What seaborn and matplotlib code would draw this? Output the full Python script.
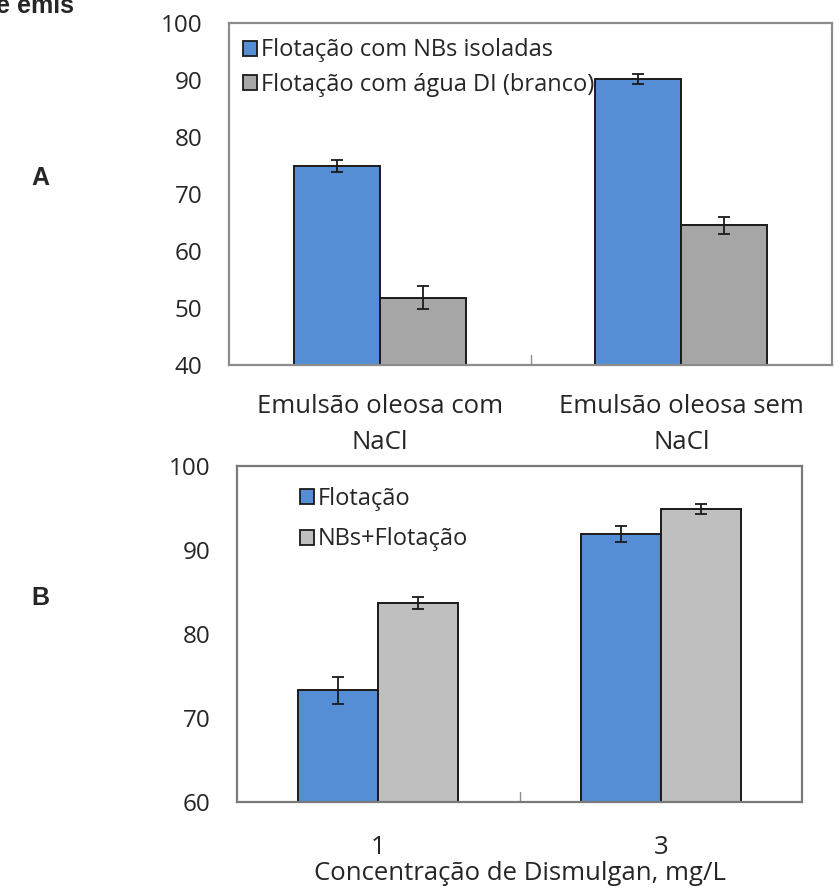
import numpy as np
import pandas as pd
import matplotlib
matplotlib.use("Agg")
import matplotlib.pyplot as plt
import seaborn as sns

# ---- data ----
cats_a = ["Emulsão oleosa com\nNaCl", "Emulsão oleosa sem\nNaCl"]
series_a = ["Flotação com NBs isoladas", "Flotação com água DI (branco)"]
vals_a_nbs = [74.9, 90.2]
err_a_nbs = [1.0, 0.9]
vals_a_branco = [51.8, 64.5]
err_a_branco = [2.0, 1.5]

cats_b = ["1", "3"]
series_b = ["Flotação", "NBs+Flotação"]
vals_b_flot = [73.3, 91.9]
err_b_flot = [1.6, 0.9]
vals_b_nbs = [83.7, 94.9]
err_b_nbs = [0.7, 0.6]

BLUE = "#558ED5"
GREY_A = "#A6A6A6"
GREY_B = "#BFBFBF"
FONT = "Open Sans"

sns.set_theme(style="white")
plt.rcParams["font.family"] = [FONT, "DejaVu Sans"]


def long_df(cats, names, vals1, vals2):
    return pd.DataFrame({
        "cat": cats + cats,
        "serie": [names[0]] * len(cats) + [names[1]] * len(cats),
        "val": list(vals1) + list(vals2),
    })


def draw_panel(ax, df, names, colors, errs, width, spine_color, spacing):
    sns.barplot(data=df, x="cat", y="val", hue="serie", hue_order=names,
                palette=dict(zip(names, colors)), width=width, gap=0,
                errorbar=None, edgecolor="#1a1a1a", linewidth=1.4,
                saturation=1, ax=ax)
    for cont, err in zip(ax.containers, errs):
        xs = [b.get_x() + b.get_width() / 2 for b in cont]
        hs = [b.get_height() for b in cont]
        ax.errorbar(xs, hs, yerr=err, fmt="none", ecolor="#1a1a1a",
                    elinewidth=1.3, capsize=4.5, capthick=1.3, zorder=5)
    for s in ax.spines.values():
        s.set_visible(True)
        s.set_color(spine_color)
        s.set_linewidth(1.6)
    ax.set_xlabel("")
    ax.set_ylabel("")
    leg = ax.legend(loc="upper left", frameon=False, fontsize=17,
                    handlelength=0.6, handleheight=0.6, handletextpad=0.15,
                    borderpad=0, borderaxespad=0, labelspacing=spacing)
    for h in leg.legend_handles:
        h.set_edgecolor("#1a1a1a")
        h.set_linewidth(1.3)
    return leg


fig = plt.figure(figsize=(8.39, 8.90), dpi=100)

# ---- panel A ----
ax1 = fig.add_axes([229 / 839, 1 - 365 / 890, 603 / 839, 342 / 890])
df_a = long_df(cats_a, series_a, vals_a_nbs, vals_a_branco)
leg1 = draw_panel(ax1, df_a, series_a, [BLUE, GREY_A],
                  [err_a_nbs, err_a_branco], 0.57, "#8c8c8c", 0.43)
leg1.set_bbox_to_anchor((14 / 603, 0.955), transform=ax1.transAxes)
ax1.set_ylim(40, 100)
ax1.set_yticks([40, 50, 60, 70, 80, 90, 100])
ax1.set_xlim(-0.5, 1.5)
ax1.set_xticks([0, 1])
ax1.set_xticklabels(cats_a, linespacing=1.55)
ax1.tick_params(axis="y", labelsize=17.5, length=3, width=1, color="#8c8c8c",
                direction="out", pad=16)
ax1.tick_params(axis="x", labelsize=18.5, length=0, pad=21)
ax1.axvline(0.5, ymin=0, ymax=0.03, color="#8c8c8c", lw=1)

# ---- panel B ----
ax2 = fig.add_axes([237 / 839, 1 - 802 / 890, 565 / 839, 336 / 890])
df_b = long_df(cats_b, series_b, vals_b_flot, vals_b_nbs)
leg2 = draw_panel(ax2, df_b, series_b, [BLUE, GREY_B],
                  [err_b_flot, err_b_nbs], 0.566, "#7a7a7a", 0.69)
leg2.set_bbox_to_anchor((63 / 565, 0.937), transform=ax2.transAxes)
ax2.set_ylim(60, 100)
ax2.set_yticks([60, 70, 80, 90, 100])
ax2.set_xlim(-0.5, 1.5)
ax2.tick_params(axis="y", labelsize=17.5, length=3, width=1, color="#8c8c8c",
                direction="in", pad=19)
ax2.tick_params(axis="x", labelsize=18.5, length=0, pad=23.5)
ax2.axvline(0.5, ymin=0, ymax=0.03, color="#8c8c8c", lw=1)
ax2.set_xlabel("Concentração de Dismulgan, mg/L", fontsize=18.5, labelpad=1)

# ---- panel letters and clipped caption ----
fig.text(40 / 839, 1 - 178 / 890, "A", fontsize=18, fontweight="bold",
         family="Liberation Sans", ha="center", va="center")
fig.text(40 / 839, 1 - 598 / 890, "B", fontsize=18, fontweight="bold",
         family="Liberation Sans", ha="center", va="center")
fig.text(-4 / 839, 1 - 13 / 890, "e emis", fontsize=18, fontweight="bold",
         family="Liberation Sans", ha="left", va="baseline")

fig.savefig("out.png", dpi=100, facecolor="white")
